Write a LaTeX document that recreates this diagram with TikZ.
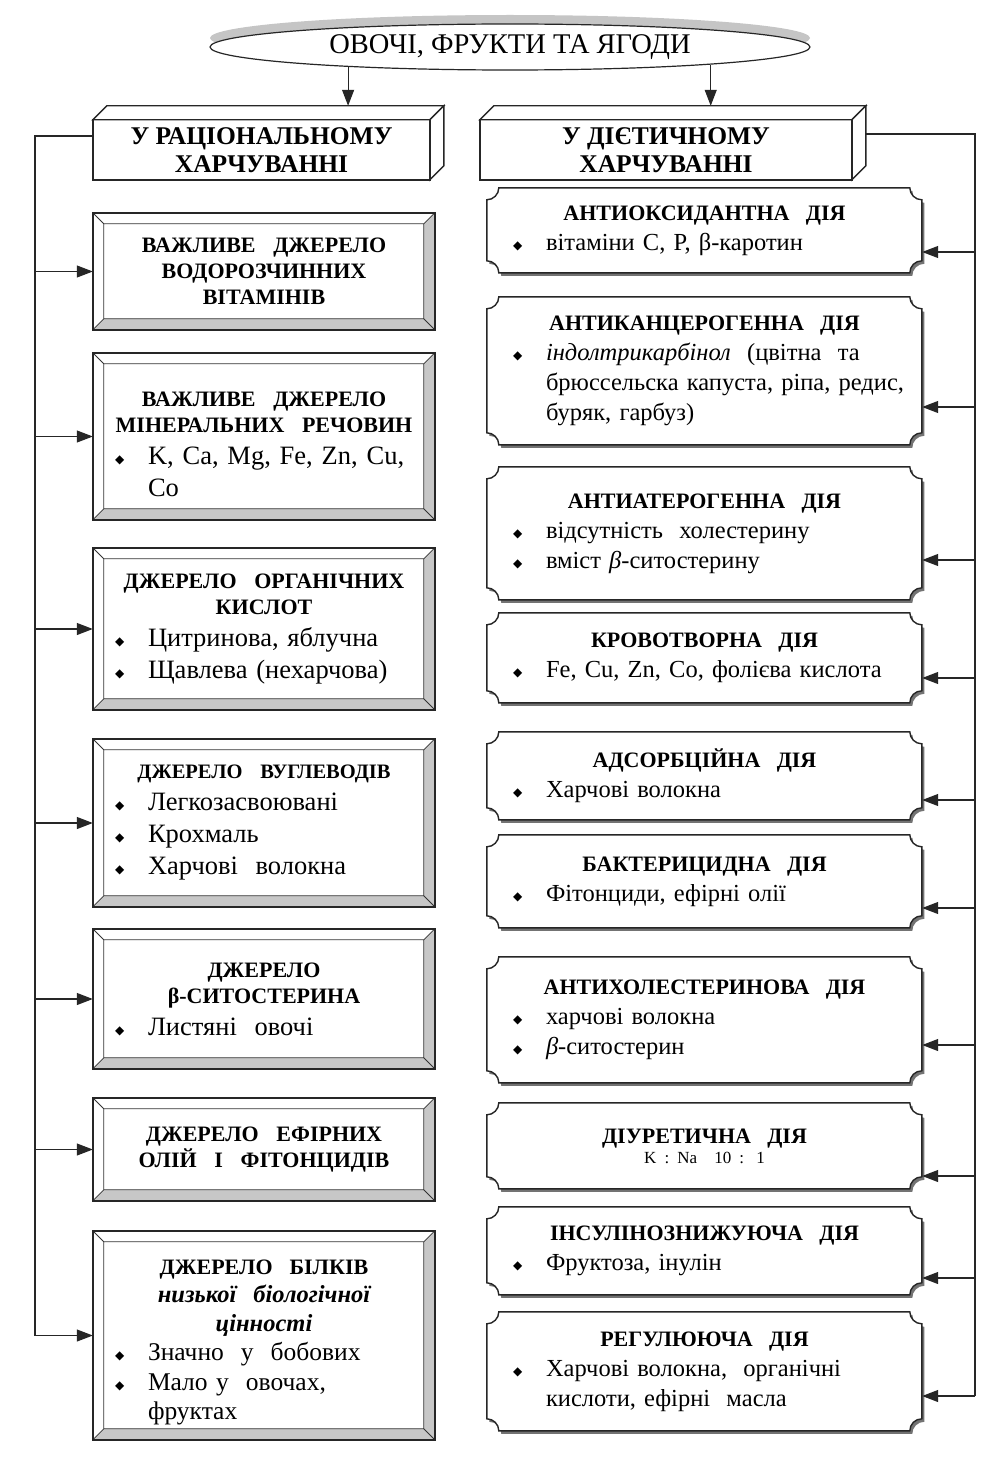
\documentclass[tikz,border=0pt]{standalone}
\usepackage{fontspec}
\setmainfont{Liberation Serif}
\newfontfamily\symfont{DejaVu Sans}
\usetikzlibrary{arrows.meta,positioning,shapes.geometric,shadows,calc,backgrounds}
\setlength{\parindent}{0pt}
\newlength\bulskip

\tikzset{
  frameline/.style={draw=black!85, line width=1.4pt},
  thinline/.style={draw=black!80, line width=0.8pt},
  bevelshade/.style={fill=black!22},
  shadowfill/.style={fill=black!55},
  figline/.style={draw=black!85, line width=1.1pt},
  figarrow/.style={figline, -{Triangle[length=16pt,width=12pt]}},
  topnode/.style={ellipse, draw=black!85, line width=1.2pt, fill=white, minimum width=600pt, minimum height=46pt, font=\fontsize{28.5}{30}\selectfont, drop shadow={shadow xshift=0pt, shadow yshift=9pt, fill=black!45}},
  headnode/.style={inner sep=0pt, align=center, minimum height=60pt, font=\fontsize{25.5}{28}\selectfont\bfseries},
  srcnode/.style={minimum width=342pt, text width=298pt, inner sep=0pt, align=left, font=\fontsize{26.5}{32}\selectfont},
  actnode/.style={minimum width=435pt, text width=409pt, inner sep=0pt, align=left, font=\fontsize{24.5}{30}\selectfont\setlength{\bulskip}{13pt}}
}

% bullet and text lines
\newcommand\bul{\hspace*{\bulskip}\makebox[33pt][l]{\symfont\fontsize{12}{12}\selectfont\raisebox{1pt}{◆}}}
\newcommand\srchead[1]{{\centering\fontsize{22}{26}\selectfont\bfseries #1\par}}
\newcommand\acthead[1]{{\centering\fontsize{22}{27}\selectfont\bfseries #1\par}}
\newcommand\itm[1]{\bul #1\par}
\newcommand\more[1]{\hspace*{\dimexpr33pt+\bulskip}#1\par}

% 3d header box: node, width, height, depth
\newcommand\solidframe[4]{%
  \begin{scope}[shift={(#1.north west)}]
    \draw[frameline, fill=white] (0,0) -- (#4,-#4) -- (#2+#4,-#4) -- (#2,0) -- cycle;
    \draw[frameline, fill=white] (#2,0) -- (#2+#4,-#4) -- (#2+#4,#3-#4) -- (#2,#3) -- cycle;
    \draw[frameline] (0,0) rectangle (#2,#3);
  \end{scope}}
% bevelled frame: node, width, height
\newcommand\srcframe[3]{%
  \begin{scope}[on background layer, shift={(#1.north west)}]
    \fill[bevelshade] (#2,0) -- (#2,#3) -- (#2-11,#3-11) -- (#2-11,11) -- cycle;
    \fill[bevelshade] (0,#3) -- (#2,#3) -- (#2-11,#3-11) -- (11,#3-11) -- cycle;
    \draw[thinline] (11,11) rectangle (#2-11,#3-11)
      (0,0) -- (11,11) (#2,0) -- (#2-11,11) (0,#3) -- (11,#3-11) (#2,#3) -- (#2-11,#3-11);
    \draw[frameline] (0,0) rectangle (#2,#3);
  \end{scope}}
% frame with cut corners: node, width, height
\newcommand\actframe[3]{%
  \begin{scope}[on background layer, shift={(#1.north west)}]
    \fill[shadowfill, xshift=2.5pt, yshift=-3pt] (12,0) -- (#2-12,0) .. controls (#2-12,6.6) and (#2-6.6,12) .. (#2,12) -- (#2,#3-12) .. controls (#2-6.6,#3-12) and (#2-12,#3-6.6) .. (#2-12,#3) -- (12,#3) .. controls (12,#3-6.6) and (6.6,#3-12) .. (0,#3-12) -- (0,12) .. controls (6.6,12) and (12,6.6) .. (12,0) -- cycle;
    \draw[frameline, fill=white] (12,0) -- (#2-12,0) .. controls (#2-12,6.6) and (#2-6.6,12) .. (#2,12) -- (#2,#3-12) .. controls (#2-6.6,#3-12) and (#2-12,#3-6.6) .. (#2-12,#3) -- (12,#3) .. controls (12,#3-6.6) and (6.6,#3-12) .. (0,#3-12) -- (0,12) .. controls (6.6,12) and (12,6.6) .. (12,0) -- cycle;
  \end{scope}}

\begin{document}
\begin{tikzpicture}[x=1pt, y=-1pt]
\useasboundingbox (0,0) rectangle (1006,1469);
\begin{scope}[on background layer]
  \fill[white] (0,0) rectangle (1006,1469);
\end{scope}

\node[topnode] (top) at (510,47) {ОВОЧІ, ФРУКТИ ТА ЯГОДИ};

% headers
\node[headnode, minimum width=337pt] (LH) at (261.5,150) {У РАЦІОНАЛЬНОМУ\\ХАРЧУВАННІ};
\node[headnode, minimum width=372pt] (RH) at (666,150) {У ДІЄТИЧНОМУ\\ХАРЧУВАННІ};
\solidframe{LH}{337}{60}{14}
\solidframe{RH}{372}{60}{14}

% left column
\node[srcnode, minimum height=117pt] (L1) at (264,271.5) {\srchead{ВАЖЛИВЕ~~ДЖЕРЕЛО\par ВОДОРОЗЧИННИХ\par ВІТАМІНІВ}};
\node[srcnode, minimum height=167pt] (L2) at (264,436.5) {\srchead{\rule{0pt}{30pt}ВАЖЛИВЕ~~ДЖЕРЕЛО\par МІНЕРАЛЬНИХ~~РЕЧОВИН}\itm{K, Ca, Mg, Fe, Zn, Cu,}\more{Co}};
\node[srcnode, minimum height=162pt] (L3) at (264,629) {\srchead{ДЖЕРЕЛО~~ОРГАНІЧНИХ\par КИСЛОТ}\itm{Цитринова, яблучна}\itm{Щавлева (нехарчова)}};
\node[srcnode, minimum height=168pt] (L4) at (264,823) {{\centering\fontsize{20.5}{24}\selectfont\bfseries ДЖЕРЕЛО~~ВУГЛЕВОДІВ\par}\itm{Легкозасвоювані}\itm{Крохмаль}\itm{Харчові~~волокна}};
\node[srcnode, minimum height=140pt] (L5) at (264,999) {\srchead{ДЖЕРЕЛО\par β-СИТОСТЕРИНА}\itm{Листяні~~овочі}};
\node[srcnode, minimum height=103pt] (L6) at (264,1149.5) {\srchead{ДЖЕРЕЛО~~ЕФІРНИХ\par ОЛІЙ~~І~~ФІТОНЦИДІВ}};
\node[srcnode, minimum height=209pt, font=\fontsize{25.5}{29.5}\selectfont] (L7) at (264,1335.5) {\srchead{\rule{0pt}{28pt}ДЖЕРЕЛО~~БІЛКІВ\par\fontsize{24.5}{28.5}\selectfont\itshape низької~~біологічної\par цінності}\itm{Значно~~у~~бобових}\itm{Мало у~~овочах,}\more{фруктах}};
\foreach \n/\h in {L1/117,L2/167,L3/162,L4/168,L5/140,L6/103,L7/209}
  \srcframe{\n}{342}{\h};

% right column
\node[actnode, minimum height=85pt] (R1) at (704.5,230.5) {\acthead{АНТИОКСИДАНТНА~~ДІЯ}\itm{вітаміни C, P, β-каротин}};
\node[actnode, minimum height=148pt] (R2) at (704.5,371) {\acthead{АНТИКАНЦЕРОГЕННА~~ДІЯ}\itm{\textit{індолтрикарбінол}~~(цвітна~~та}\more{брюссельска капуста, ріпа, редис,}\more{буряк, гарбуз)}};
\node[actnode, minimum height=133pt] (R3) at (704.5,533.5) {\acthead{АНТИАТЕРОГЕННА~~ДІЯ}\itm{відсутність~~холестерину}\itm{вміст \textit{β}-ситостерину}};
\node[actnode, minimum height=90pt] (R4) at (704.5,658) {\acthead{КРОВОТВОРНА~~ДІЯ}\itm{Fe, Cu, Zn, Co, фолієва кислота}};
\node[actnode, minimum height=88pt] (R5) at (704.5,776) {\acthead{АДСОРБЦІЙНА~~ДІЯ}\itm{Харчові волокна}};
\node[actnode, minimum height=93pt] (R6) at (704.5,881.5) {\acthead{БАКТЕРИЦИДНА~~ДІЯ}\itm{Фітонциди, ефірні олії}};
\node[actnode, minimum height=126pt] (R7) at (704.5,1020) {\acthead{АНТИХОЛЕСТЕРИНОВА~~ДІЯ}\itm{харчові волокна}\itm{\textit{β}-ситостерин}};
\node[actnode, minimum height=86pt] (R8) at (704.5,1146) {\acthead{ДІУРЕТИЧНА~~ДІЯ}{\centering\fontsize{17}{20}\selectfont K : Na\quad 10 : 1\par}};
\node[actnode, minimum height=88pt] (R9) at (704.5,1251) {\acthead{ІНСУЛІНОЗНИЖУЮЧА~~ДІЯ}\itm{Фруктоза, інулін}};
\node[actnode, minimum height=119pt] (R10) at (704.5,1371.5) {\acthead{РЕГУЛЮЮЧА~~ДІЯ}\itm{Харчові волокна,~~органічні}\more{кислоти, ефірні~~масла}};
\foreach \n/\h in {R1/85,R2/148,R3/133,R4/90,R5/88,R6/93,R7/126,R8/86,R9/88,R10/119}
  \actframe{\n}{435}{\h};

% connectors
\coordinate (LHtop) at ($(LH.north)+(0,-14)$);
\coordinate (RHtop) at ($(RH.north)+(0,-14)$);
\draw[figarrow] (top.187) -- (top.187 |- LHtop);
\draw[figarrow] (top.355) -- (top.355 |- RHtop);

\coordinate (ltop) at (35,136);
\draw[figline] (LH.west |- ltop) -- (ltop) -- (ltop |- L7.west);
\foreach \n in {L1,L2,L3,L4,L5,L6,L7}
  \draw[figarrow] (ltop |- \n.west) -- (\n.west);

\coordinate (rtop) at (975,134);
\coordinate (RHside) at ($(RH.east)+(14,0)$);
\foreach \n/\y in {R1/252,R2/407,R3/560,R4/678,R5/800,R6/908,R7/1045,R8/1176,R9/1278,R10/1396}
  \coordinate (in\n) at (975,\y);
\draw[figline] (RHside |- rtop) -- (rtop) -- (inR10);
\foreach \n in {R1,R2,R3,R4,R5,R6,R7,R8,R9,R10}
  \draw[figarrow] (in\n) -- (in\n -| \n.east);
\end{tikzpicture}
\end{document}
